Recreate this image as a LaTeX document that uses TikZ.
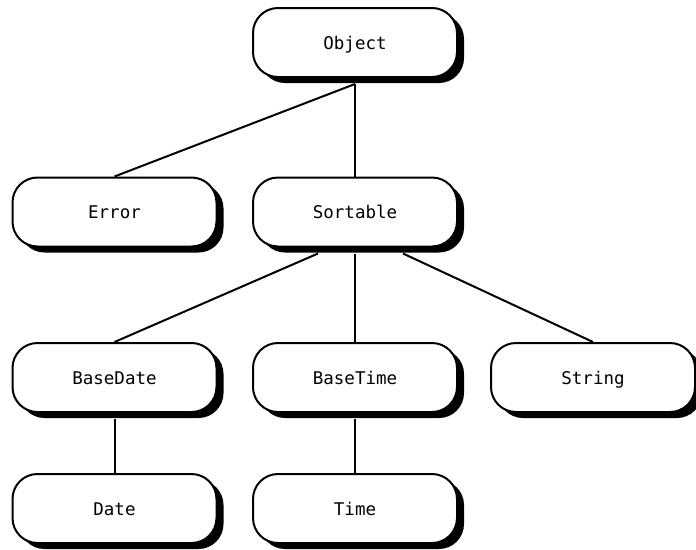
\documentclass[tikz,border=0pt]{standalone}
\usepackage{fontspec}
\setmonofont{DejaVu Sans Mono}
\usetikzlibrary{shadows,calc}
\tikzset{
  cls/.style={draw=black, line width=2pt, fill=white, rounded corners=25pt,
    minimum width=204pt, minimum height=69pt, inner sep=0pt,
    text height=13pt, text depth=0pt,
    font=\ttfamily\fontsize{17.5}{20}\selectfont,
    drop shadow={shadow xshift=7pt, shadow yshift=-6pt, opacity=1, fill=black}},
  link/.style={line width=2pt}
}
\begin{document}
\begin{tikzpicture}[x=1pt,y=-1pt]
\useasboundingbox (0,0) rectangle (696,549);
\node[cls] (obj) at (355,42.5) {Object};
\node[cls] (err) at (114.5,212) {Error};
\node[cls] (srt) at (355,212) {Sortable};
\node[cls] (bd) at (114.5,377.5) {BaseDate};
\node[cls] (bt) at (355,377.5) {BaseTime};
\node[cls] (str) at (593,377.5) {String};
\node[cls] (dat) at (114.5,508.5) {Date};
\node[cls] (tim) at (355,508.5) {Time};
\draw[link] ($(obj.south)+(0,6)$) -- (err.north);
\draw[link] ($(obj.south)+(0,6)$) -- (srt.north);
\draw[link] ($(srt.south)+(-37,6)$) -- (bd.north);
\draw[link] ($(srt.south)+(0,6)$) -- (bt.north);
\draw[link] ($(srt.south)+(48,6)$) -- (str.north);
\draw[link] ($(bd.south)+(0,6)$) -- (dat.north);
\draw[link] ($(bt.south)+(0,6)$) -- (tim.north);
\end{tikzpicture}
\end{document}
